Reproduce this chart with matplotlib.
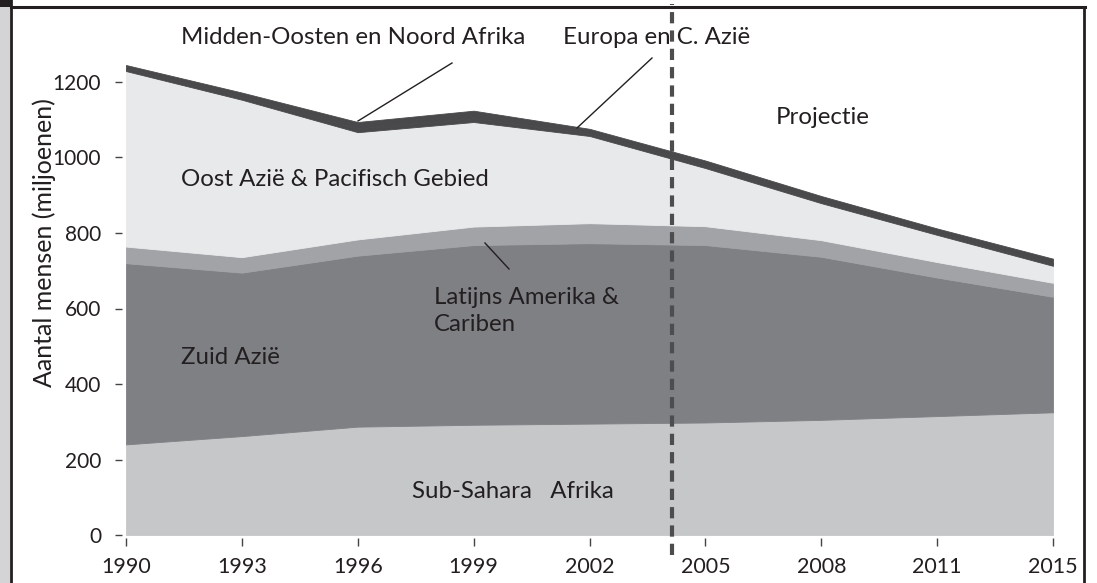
import matplotlib.pyplot as plt
from matplotlib.patches import Rectangle
from matplotlib.lines import Line2D
import numpy as np

plt.rcParams['font.family'] = ['Lato', 'DejaVu Sans']

jaren = ['1990', '1993', '1996', '1999', '2002', '2005', '2008', '2011', '2015']

# miljoenen mensen per regio (gestapeld)
sub_sahara = [240, 262, 287, 292, 295, 298, 305, 315, 325]
zuid_azie = [480, 433, 453, 476, 478, 470, 432, 367, 306]
latijns_amerika = [44, 41, 43, 49, 53, 50, 44, 41, 37]
oost_azie = [465, 417, 284, 277, 231, 154, 98, 72, 45]
midden_oosten = [6, 7, 10, 10, 6, 6, 5, 5, 5]
europa = [10, 12, 17, 20, 13, 14, 14, 12, 14]

kleuren = ['#c6c7c9', '#7f8084', '#a2a3a6', '#e8e9eb', '#49494b', '#49494b']
tekstkleur = '#231f20'

W, H = 1097, 583
fig = plt.figure(figsize=(W / 100, H / 100), dpi=100)

# assen: 1990 op px 126, 2015 op px 1053; 0 op py 535, 1200 op py 82
x0, x1 = 126, 1053
y0px, pxper = 535, (535 - 82) / 1200
ytop = 1320
ax = fig.add_axes([x0 / W, 1 - y0px / H, (x1 - x0) / W, ytop * pxper / H])

x = np.arange(len(jaren))
lagen = [sub_sahara, zuid_azie, latijns_amerika, oost_azie, midden_oosten, europa]
polys = ax.stackplot(x, *lagen, colors=kleuren)
for p, k in zip(polys, kleuren):
    p.set_edgecolor(k)
    p.set_linewidth(0.6)

ax.set_xlim(0, len(jaren) - 1)
ax.set_ylim(0, ytop)

for s in ['top', 'right', 'left', 'bottom']:
    ax.spines[s].set_visible(False)
ax.spines['left'].set_position(('outward', 3))
ax.spines['bottom'].set_position(('outward', 2))

ax.set_yticks(range(0, 1201, 200))
ax.set_xticks(x)
ax.set_xticklabels(jaren)
ax.tick_params(axis='y', length=5, width=1, color='#444444', pad=10,
               labelsize=15, labelcolor=tekstkleur)
ax.tick_params(axis='x', length=6, width=1, color='#444444', pad=8,
               labelsize=15.5, labelcolor=tekstkleur)
ax.set_ylabel('Aantal mensen (miljoenen)', fontsize=18, color=tekstkleur)
ax.yaxis.set_label_coords((56 - x0) / (x1 - x0), (y0px - 243) / (ytop * pxper))


def px2data(px, py):
    return (px - x0) / ((x1 - x0) / 8), (y0px - py) / pxper


# projectie lijn
xs, _ = px2data(671.5, 0)
ax.axvline(xs, ymin=-0.04, ymax=1.065, color='#4d4d4f', lw=3,
           dashes=(2.7, 1.7), clip_on=False, zorder=5)

fs = 17.3
teksten = [
    ('Midden-Oosten en Noord Afrika', 181, 37, 'left'),
    ('Europa en C. Azië', 563, 37, 'left'),
    ('Projectie', 776, 118, 'left'),
    ('Oost Azië & Pacifisch Gebied', 181, 180, 'left'),
    ('Latijns Amerika &\nCariben', 434, 311, 'left'),
    ('Zuid Azië', 181, 357, 'left'),
    ('Sub-Sahara   Afrika', 412, 491, 'left'),
]
for t, px, py, ha in teksten:
    tx, ty = px2data(px, py)
    ax.text(tx, ty, t, fontsize=fs, color=tekstkleur, ha=ha, va='center',
            linespacing=1.3, clip_on=False, zorder=6)

# verwijslijnen
lijnen = [((358, 121), (452, 63)), ((577, 128), (652, 58)), ((485, 243), (509, 269))]
for (ax_px, ay_px), (bx_px, by_px) in lijnen:
    a = px2data(ax_px, ay_px)
    b = px2data(bx_px, by_px)
    ax.plot([a[0], b[0]], [a[1], b[1]], color='#231f20', lw=1, clip_on=False, zorder=6)

# kader
fig.add_artist(Rectangle((0, 0), 10 / W, 1, transform=fig.transFigure,
                         facecolor='#d4d4d6', edgecolor='none'))
fig.add_artist(Rectangle((0, 1 - 7 / H), 12 / W, 7 / H, transform=fig.transFigure,
                         facecolor='#231f20', edgecolor='none'))
fig.add_artist(Line2D([11 / W, 11 / W], [0, 1], transform=fig.transFigure,
                      color='#231f20', lw=2))
fig.add_artist(Line2D([1084 / W, 1084 / W], [0, 1 - 7 / H], transform=fig.transFigure,
                      color='#231f20', lw=2))
fig.add_artist(Line2D([11 / W, 1085 / W], [1 - 7 / H, 1 - 7 / H], transform=fig.transFigure,
                      color='#231f20', lw=2.2))

fig.savefig('out.png', dpi=100)
